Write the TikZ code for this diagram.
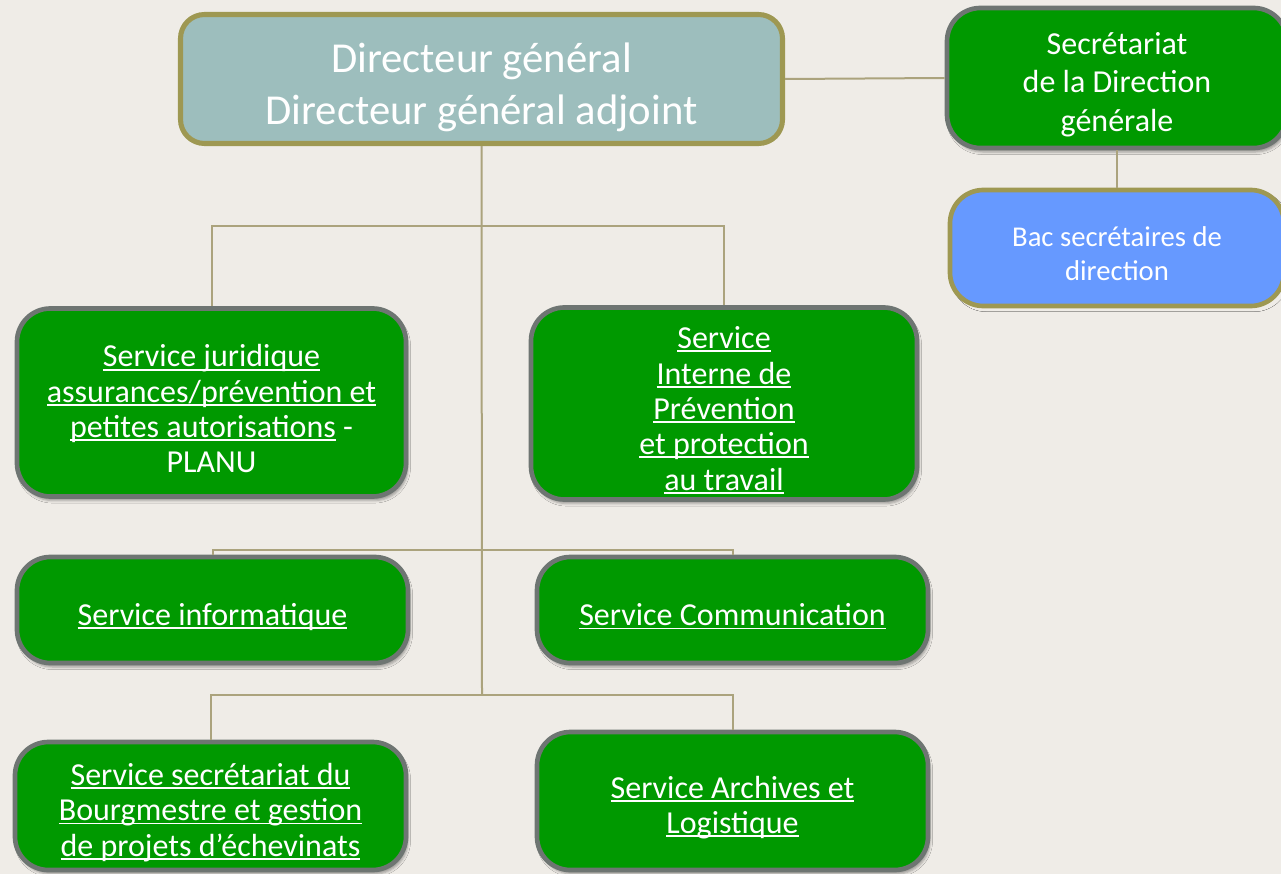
\documentclass[tikz,border=0pt]{standalone}
\usepackage{fontspec}
\setmainfont{Carlito}
\usepackage{tikz}
\usetikzlibrary{shadows,shadows.blur}

\definecolor{bgbeige}{HTML}{EFECE7}
\definecolor{dgteal}{HTML}{9DBEBD}
\definecolor{olivebord}{HTML}{9E9852}
\definecolor{svcgreen}{HTML}{009900}
\definecolor{svcgrey}{HTML}{6E7572}
\definecolor{bacblue}{HTML}{6699FF}
\definecolor{linkolive}{HTML}{ABA37D}

% underlined text, line just below the baseline
\newcommand{\uln}[1]{\setbox0\hbox{#1}\rlap{\rule[-0.11em]{\wd0}{0.055em}}\box0\relax}
% taller first line, pushes the text block a little down
\newcommand{\boxpad}{\rule{0pt}{1.1em}}

\begin{document}
\begin{tikzpicture}[x=0.75pt, y=-0.75pt,
    link/.style={draw=linkolive, line width=1.5pt},
    svcbox/.style={rectangle, rounded corners=25pt, fill=svcgreen, draw=svcgrey,
      line width=3.5pt, text=white, align=center, inner sep=0pt,
      font=\fontsize{24}{26.5}\selectfont,
      blur shadow={shadow xshift=1.5pt, shadow yshift=-3pt, shadow opacity=35}},
    topbox/.style={rectangle, rounded corners=18pt, fill=dgteal, draw=olivebord,
      line width=3.8pt, text=white, align=center, inner sep=0pt,
      font=\fontsize{32}{39}\selectfont}]

        % page background
        \fill[bgbeige] (0,0) rectangle (1281,874);
        \useasboundingbox (0,0) rectangle (1281,874);

        % direction
        \node[topbox, minimum width=451.5pt, minimum height=96.75pt] (dg) at (481.5,79)
          {\boxpad Directeur général\\Directeur général adjoint};

        % secretariat (right column)
        \node[svcbox, minimum width=255pt, minimum height=105pt,
          font=\fontsize{24}{29}\selectfont] (sec) at (1117,78)
          {\boxpad Secrétariat\\de la Direction\\générale};
        \node[svcbox, fill=bacblue, draw=olivebord, blur shadow={shadow opacity=0},
          minimum width=250.5pt, minimum height=87pt,
          font=\fontsize{21.5}{26}\selectfont] (bac) at (1117,248)
          {\boxpad Bac secrétaires de\\direction};

        % services
        \node[svcbox, minimum width=291.75pt, minimum height=141pt] (jur) at (211.5,402.5)
          {\boxpad\uln{Service juridique}\\\uln{assurances/prévention et}\\
           \uln{petites autorisations} -\\PLANU};
        \node[svcbox, minimum width=289.5pt, minimum height=144pt] (sipp) at (724,403.5)
          {\boxpad\uln{Service}\\\uln{Interne de}\\\uln{Prévention}\\
           \uln{et protection}\\\uln{au travail}};
        \node[svcbox, minimum width=293.25pt, minimum height=79.5pt] (info) at (212.5,610)
          {\boxpad\uln{Service informatique}};
        \node[svcbox, minimum width=293.25pt, minimum height=79.5pt] (comm) at (732.5,610)
          {\boxpad\uln{Service Communication}};
        \node[svcbox, minimum width=293.25pt, minimum height=96pt] (secb) at (210.5,806)
          {\boxpad\uln{Service secrétariat du}\\\uln{Bourgmestre et gestion}\\
           \uln{de projets d’échevinats}};
        \node[svcbox, minimum width=293.25pt, minimum height=103.5pt] (arch) at (732.5,801)
          {\boxpad\uln{Service Archives et}\\\uln{Logistique}};

        % branch points on the trunk
        \coordinate (b1) at (482,226);
        \coordinate (b2) at (482,550);
        \coordinate (b3) at (482,695);

        % connectors
        \draw[link] (dg.east) -- (sec.west);
        \draw[link] (sec.south) -- (bac.north);
        \draw[link] (dg.south) -- (b3);
        \draw[link] (jur.north) |- (b1) -| (sipp.north);
        \draw[link] (info.north) |- (b2) -| (comm.north);
        \draw[link] (secb.north) |- (b3) -| (arch.north);
    \end{tikzpicture}
\end{document}
